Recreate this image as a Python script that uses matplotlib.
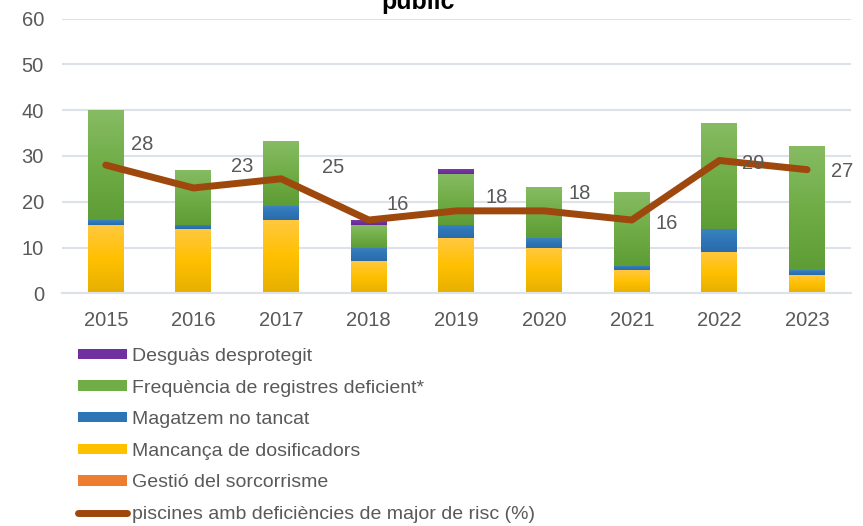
import numpy as np
import matplotlib
matplotlib.use("Agg")
import matplotlib.pyplot as plt
from matplotlib.colors import LinearSegmentedColormap

plt.rcParams['font.family'] = ['Liberation Sans', 'DejaVu Sans']

years = ["2015", "2016", "2017", "2018", "2019", "2020", "2021", "2022", "2023"]
gestio = [0, 0, 0, 0, 0, 0, 0, 0, 0]
mancanca = [15, 14, 16, 7, 12, 10, 5, 9, 4]
magatzem = [1, 1, 3, 3, 3, 2, 1, 5, 1]
frequencia = [24, 12, 14, 5, 11, 11, 16, 23, 27]
desguas = [0, 0, 0, 1, 1, 0, 0, 0, 0]
piscines = [28, 23, 25, 16, 18, 18, 16, 29, 27]

# stacking order, bottom to top: (label, base colour, gradient top/mid/bottom)
series = [
    ("Gestió del sorcorrisme", gestio, "#ED7D31", ["#F29A5C", "#ED7D31", "#D66A20"]),
    ("Mancança de dosificadors", mancanca, "#FFC000", ["#FFC840", "#FFC000", "#E6B000"]),
    ("Magatzem no tancat", magatzem, "#2E75B6", ["#3A82C2", "#2E75B6", "#2A6BA8"]),
    ("Frequència de registres deficient*", frequencia, "#70AD47", ["#86BB63", "#70AD47", "#5E9C35"]),
    ("Desguàs desprotegit", desguas, "#7030A0", ["#7A3AAA", "#7030A0", "#662A94"]),
]

# label offsets in pixels (dx, dy) from each line point
label_off = [(36, 21), (49, 21), (52, 11), (29, 16), (40, 13), (36, 17), (35, -3), (34, -3), (35, -2)]

fig = plt.figure(figsize=(8.63, 5.26), dpi=100)
ax = fig.add_axes([0.0718, 0.4424, 0.9142, 0.5224])

x = np.arange(len(years))
width = 0.41
bottom = np.zeros(len(years))
handles = {}
grad = np.linspace(1, 0, 64).reshape(-1, 1)
for label, vals, col, gcols in series:
    vals = np.array(vals, dtype=float)
    bars = ax.bar(x, vals, width, bottom=bottom, color=col, label=label, zorder=2, linewidth=0)
    cmap = LinearSegmentedColormap.from_list(label, gcols)
    for b in bars:
        h = b.get_height()
        if h <= 0:
            continue
        x0 = b.get_x()
        y0 = b.get_y()
        ax.imshow(grad, extent=[x0, x0 + b.get_width(), y0, y0 + h], origin='lower',
                  cmap=cmap, vmin=0, vmax=1, aspect='auto', zorder=2.1,
                  interpolation='bilinear')
    handles[label] = bars
    bottom += vals

line, = ax.plot(x, piscines, color="#9E480E", lw=5, solid_capstyle='round',
                solid_joinstyle='round', zorder=3, label="piscines amb deficiències de major de risc (%)")

for xi, v, (dx, dy) in zip(x, piscines, label_off):
    ax.annotate(str(v), (xi, v), xytext=(dx, dy), textcoords='offset pixels',
                ha='center', va='center', fontsize=14.5, color="#595959", zorder=4)

ax.set_xlim(-0.5, len(years) - 0.5)
ax.set_ylim(0, 60)
ax.set_yticks(range(0, 61, 10))
ax.set_xticks(x)
ax.set_xticklabels(years)
ax.yaxis.grid(True, color="#DDE2EA", lw=1.5, zorder=0)
ax.set_axisbelow(True)
for s in ["top", "right", "left"]:
    ax.spines[s].set_visible(False)
ax.spines["bottom"].set_color("#DDE2EA")
ax.spines["bottom"].set_linewidth(1.5)
ax.tick_params(axis='both', length=0, labelsize=14.5, labelcolor="#595959")
ax.tick_params(axis='y', pad=13)
ax.tick_params(axis='x', pad=13)

fig.text(0.4845, 1 - 9 / 526, "public", ha='center', va='baseline', fontsize=18,
         fontweight='bold', color='black')

order = ["Desguàs desprotegit", "Frequència de registres deficient*", "Magatzem no tancat",
         "Mancança de dosificadors", "Gestió del sorcorrisme"]
leg_h = [handles[k] for k in order] + [line]
leg_l = order + [line.get_label()]
fig.legend(leg_h, leg_l, loc='upper left', bbox_to_anchor=(78 / 863, 1 - 348 / 526),
           frameon=False, fontsize=14, labelcolor="#595959", handlelength=2.5,
           handleheight=0.45, handletextpad=0.3, labelspacing=0.75, borderpad=0,
           borderaxespad=0)

fig.savefig("out.png", dpi=100)
